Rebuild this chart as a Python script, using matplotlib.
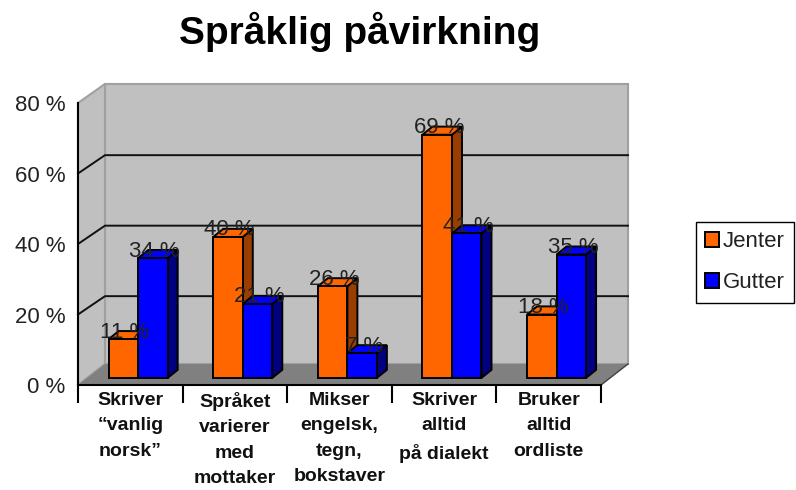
import matplotlib
matplotlib.use('Agg')
import numpy as np
from matplotlib import pyplot as plt
from matplotlib.patches import Polygon, Patch

plt.rcParams['font.family'] = ['Liberation Sans', 'DejaVu Sans']

kategorier = ['Skriver\n“vanlig\nnorsk”', 'Språket\nvarierer\nmed\nmottaker',
              'Mikser\nengelsk,\ntegn,\nbokstaver', 'Skriver\nalltid\npå dialekt',
              'Bruker\nalltid\nordliste']
jenter = [11, 40, 26, 69, 18]
gutter = [34, 21, 7, 41, 35]
y_ticks = [0, 20, 40, 60, 80]

# farger
ORANGE = '#FF6600'
ORANGE_SIDE = '#993D00'
BLUE = '#0000FF'
BLUE_SIDE = '#000080'
WALL = '#C0C0C0'
FLOOR = '#808080'

# dybde i dataenheter
dx_wall, dy_wall = 0.258, 5.96
dy_top = 5.4
dy_grid = 5.2
dx_base, dy_base = 0.086, 2.0
dx_bar, dy_bar = 0.096, 2.3
bar_w = 0.282

fig = plt.figure(figsize=(7.96, 4.9), dpi=100)
ax = fig.add_axes([78 / 796, 105 / 490, 523 / 796, 282 / 490])
ax.set_xlim(0, 5)
ax.set_ylim(0, 80)
ax.patch.set_visible(False)

# vegger og gulv
ax.add_patch(Polygon([(dx_wall, dy_wall), (5 + dx_wall, dy_wall), (5 + dx_wall, 80 + dy_top), (dx_wall, 80 + dy_top)],
                     fc=WALL, ec='#A0A0A0', lw=1.5, clip_on=False, zorder=1))
ax.add_patch(Polygon([(0, 0), (dx_wall, dy_wall), (dx_wall, 80 + dy_top), (0, 80)],
                     fc=WALL, ec='#A0A0A0', lw=1.5, clip_on=False, zorder=1))
ax.add_patch(Polygon([(0, 0), (5, 0), (5 + dx_wall, dy_wall), (dx_wall, dy_wall)],
                     fc=FLOOR, ec='none', clip_on=False, zorder=1.5))
ax.plot([5, 5 + dx_wall], [0, dy_wall], color='#404040', lw=1, clip_on=False, zorder=1.6)

# rutenett
for t in y_ticks[1:-1]:
    ax.plot([0, dx_wall, 5 + dx_wall], [t, t + dy_grid, t + dy_grid], color='#111111', lw=1.4,
            clip_on=False, zorder=2, solid_joinstyle='miter')


def draw_bar(x, v, front, side, z):
    x0 = x + dx_base
    y0 = dy_base
    ax.bar(x0, v, bar_w, bottom=y0, align='edge', color=front, edgecolor='black', lw=1.4, zorder=z + 0.1, clip_on=False)
    ax.add_patch(Polygon([(x0 + bar_w, y0), (x0 + bar_w + dx_bar, y0 + dy_bar),
                          (x0 + bar_w + dx_bar, y0 + v + dy_bar), (x0 + bar_w, y0 + v)],
                         fc=side, ec='black', lw=1.4, clip_on=False, zorder=z))
    ax.add_patch(Polygon([(x0, y0 + v), (x0 + bar_w, y0 + v),
                          (x0 + bar_w + dx_bar, y0 + v + dy_bar), (x0 + dx_bar, y0 + v + dy_bar)],
                         fc=front, ec='black', lw=1.4, clip_on=False, zorder=z))


pos = np.arange(len(kategorier))
for i in pos:
    x1 = i + 0.5 - bar_w - dx_base + 0.075
    x2 = x1 + bar_w
    draw_bar(x1, jenter[i], ORANGE, ORANGE_SIDE, 3 + i)
    draw_bar(x2, gutter[i], BLUE, BLUE_SIDE, 3.5 + i)
    ax.text(x1 + dx_base + bar_w / 2 + 0.015, jenter[i] + dy_base - 1.0, f'{jenter[i]} %', ha='center', va='bottom',
            fontsize=16, color='#222222', zorder=20)
    ax.text(x2 + dx_base + bar_w / 2 + 0.015, gutter[i] + dy_base - 1.0, f'{gutter[i]} %', ha='center', va='bottom',
            fontsize=16, color='#222222', zorder=20)

# akser
for s in ['top', 'right']:
    ax.spines[s].set_visible(False)
for s in ['left', 'bottom']:
    ax.spines[s].set_linewidth(1.5)
    ax.spines[s].set_zorder(30)
ax.set_yticks(y_ticks)
ax.set_yticklabels([f'{t} %' for t in y_ticks], fontsize=16, color='#222222')
ax.tick_params(axis='y', length=0, pad=9)
ax.set_xticks(np.arange(0, 6), minor=True)
ax.tick_params(axis='x', which='minor', length=13, width=1.5)
ax.set_xticks(pos + 0.5)
ax.set_xticklabels(kategorier, fontsize=14, fontweight='bold', linespacing=1.65, color='#111111')
ax.tick_params(axis='x', which='major', length=0, pad=5)

fig.text(360 / 796, 1 - 44 / 490, 'Språklig påvirkning', ha='center', va='baseline', fontsize=28, fontweight='bold')

handles = [Patch(fc=ORANGE, ec='black', lw=1.4, label='Jenter'), Patch(fc=BLUE, ec='black', lw=1.4, label='Gutter')]
fig.legend(handles=handles, loc='upper left', bbox_to_anchor=(696 / 796, 1 - 222 / 490), bbox_transform=fig.transFigure,
           fontsize=16, fancybox=False, framealpha=1, edgecolor='black', borderaxespad=0, borderpad=0.42,
           handlelength=0.6, handleheight=0.7, handletextpad=0.2, labelspacing=0.9, labelcolor='#222222')

fig.savefig('out.png', dpi=100)
